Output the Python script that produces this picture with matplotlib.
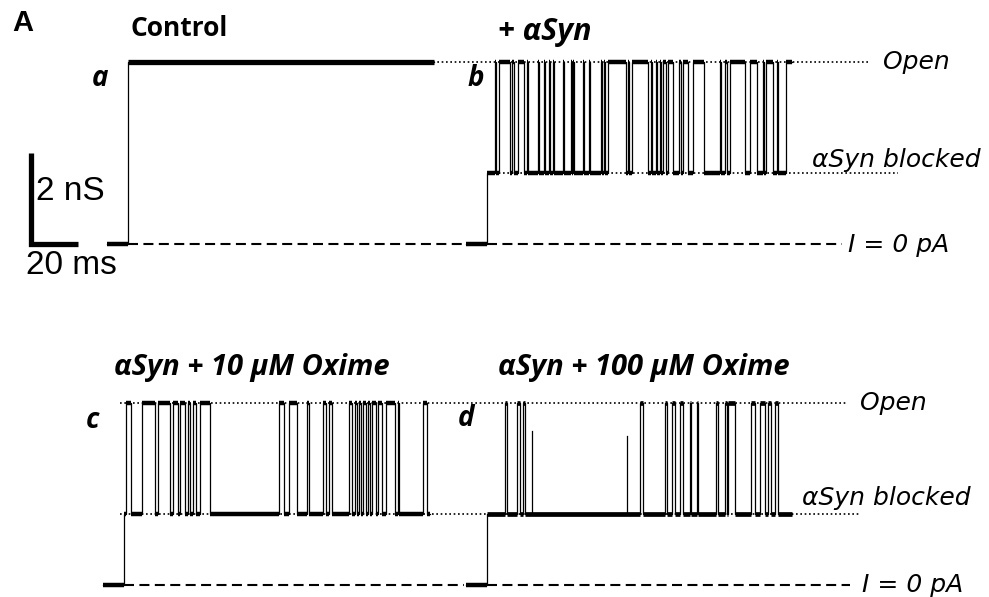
import matplotlib.pyplot as plt

# scale of the original figure (pixels per ms and per nS)
PX_PER_MS = 2.35
PX_PER_NS = 45.5
W, H = 989, 597

OPEN_NS = 4.0
BLOCKED_NS = 1.55
SWEEP_MS = 130
PRE_MS = 9

# open intervals, ms after channel insertion
control_open = [(0, 130)]
asyn_open = [
    (3.4, 3.8), (5.1, 9.8), (10.6, 11.5), (13.2, 15.7), (17.0, 17.4),
    (21.7, 22.1), (24.3, 24.7), (26.4, 26.8), (28.1, 28.5), (32.3, 32.8),
    (35.7, 36.2), (36.6, 37.0), (40.9, 41.3), (43.4, 43.8), (48.5, 48.9),
    (49.8, 50.2), (51.5, 59.1), (60.0, 60.4), (61.7, 68.5), (69.8, 70.2),
    (71.9, 72.3), (73.6, 74.0), (74.9, 76.2), (77.0, 79.1), (81.7, 82.6),
    (83.4, 85.5), (87.7, 92.3), (99.1, 99.6), (101.3, 102.1), (103.4, 109.8),
    (111.9, 114.9), (117.4, 117.9), (118.7, 121.7), (123.4, 123.8), (127.2, 130),
]
oxime10_open = [
    (0.9, 3.0), (7.7, 13.2), (14.5, 19.6), (20.9, 23.0), (23.8, 26.0),
    (27.2, 28.1), (29.4, 30.6), (32.3, 36.6), (66.0, 68.1), (70.2, 73.6),
    (77.9, 78.7), (84.7, 86.0), (87.2, 88.5), (95.7, 97.0), (98.3, 99.1),
    (100.0, 100.9), (101.7, 103.0), (103.8, 104.7), (105.5, 107.2),
    (108.1, 109.8), (111.5, 115.3), (116.6, 117.0), (127.2, 129),
]
oxime100_open = [
    (7.7, 8.5), (12.8, 14.0), (15.3, 16.2), (65.1, 66.4), (75.7, 76.6),
    (78.7, 80.0), (82.1, 83.4), (86.4, 86.8), (89.4, 89.8), (97.4, 98.3),
    (101.3, 102.1), (102.6, 105.5), (112.3, 114.0), (116.2, 118.3),
    (119.6, 120.9), (122.6, 123.8),
]
# partial openings in d: (ms, fraction of the way to the open level)
oxime100_partial = [(19.1, 0.75), (59.6, 0.7)]

TOP_BASE = 244
BOT_BASE = 585

LABEL_FONT = 'Open Sans'
LEVEL_FONT = 'DejaVu Sans'


def px(x, y):
    return x / PX_PER_MS, (H - y) / PX_PER_NS


def segments(opens, closed):
    segs = []
    t = 0
    for s, e in opens:
        if s > t:
            segs.append((t, s, closed))
        segs.append((s, e, OPEN_NS))
        t = e
    if t < SWEEP_MS:
        segs.append((t, SWEEP_MS, closed))
    return segs


def draw_trace(ax, start_px, base_px, opens, closed, plateau_lw, partial=()):
    x0, y0 = px(start_px, base_px)
    segs = [(-PRE_MS, 0, 0)] + segments(opens, closed)
    xs = [x0 + s for s, e, lvl in segs] + [x0 + segs[-1][1]]
    ys = [y0 + lvl for s, e, lvl in segs] + [y0 + segs[-1][2]]
    ax.plot(xs, ys, drawstyle='steps-post', color='black', lw=0.9, zorder=3)
    for s, e, lvl in segs:
        lw = 3.2 if lvl == 0 else plateau_lw
        ax.plot([x0 + s, x0 + e], [y0 + lvl] * 2, color='black', lw=lw,
                solid_capstyle='butt', zorder=3)
    for t, frac in partial:
        ax.plot([x0 + t] * 2, [y0 + closed, y0 + closed + frac * (OPEN_NS - closed)],
                color='black', lw=0.9, zorder=3)


def ref_line(ax, x1, x2, base_px, level, kind):
    xa, y0 = px(x1, base_px)
    xb, _ = px(x2, base_px)
    if kind == 'dashed':
        ax.plot([xa, xb], [y0 + level] * 2, color='black', lw=1.5,
                linestyle=(0, (4.8, 2.6)), zorder=2)
    else:
        ax.plot([xa, xb], [y0 + level] * 2, color='black', lw=1.2,
                linestyle=(0, (1, 1.6)), zorder=2)


def label(ax, x, y, s, **kw):
    ax.text(*px(x, y), s, va='center', **kw)


fig = plt.figure(figsize=(W / 100, H / 100), dpi=100)
ax = fig.add_axes([0, 0, 1, 1])
ax.set_xlim(0, W / PX_PER_MS)
ax.set_ylim(0, H / PX_PER_NS)
ax.axis('off')

# reference levels
ref_line(ax, 433, 870, TOP_BASE, OPEN_NS, 'dotted')
ref_line(ax, 490, 898, TOP_BASE, BLOCKED_NS, 'dotted')
ref_line(ax, 128, 466, TOP_BASE, 0, 'dashed')
ref_line(ax, 487, 842, TOP_BASE, 0, 'dashed')
ref_line(ax, 120, 848, BOT_BASE, OPEN_NS, 'dotted')
ref_line(ax, 120, 860, BOT_BASE, BLOCKED_NS, 'dotted')
ref_line(ax, 124, 464, BOT_BASE, 0, 'dashed')
ref_line(ax, 487, 850, BOT_BASE, 0, 'dashed')

# traces
draw_trace(ax, 128, TOP_BASE, control_open, BLOCKED_NS, 3.8)
draw_trace(ax, 487, TOP_BASE, asyn_open, BLOCKED_NS, 3.2)
draw_trace(ax, 124, BOT_BASE, oxime10_open, BLOCKED_NS, 3.2)
draw_trace(ax, 487, BOT_BASE, oxime100_open, BLOCKED_NS, 3.4, oxime100_partial)

# scale bar: 2 nS x 20 ms
cx, cy = px(31, 244)
ax.plot([cx, cx, cx + 20], [cy + 2, cy, cy], color='black', lw=3.8,
        solid_joinstyle='miter', solid_capstyle='butt', zorder=3)
label(ax, 36, 192, '2 nS', fontsize=24, family='Liberation Sans')
label(ax, 26, 266, '20 ms', fontsize=24, family='Liberation Sans')

# panel labels and titles
label(ax, 12, 23, 'A', fontsize=21, fontweight='bold', family='Liberation Sans')
label(ax, 130, 28, 'Control', fontsize=19, fontweight='bold', family=LABEL_FONT)
label(ax, 498, 32, '+ αSyn', fontsize=22, fontweight='bold', style='italic', family=LABEL_FONT)
label(ax, 114, 368, 'αSyn + 10 μM Oxime', fontsize=21, fontweight='bold', style='italic', family=LABEL_FONT)
label(ax, 498, 368, 'αSyn + 100 μM Oxime', fontsize=21, fontweight='bold', style='italic', family=LABEL_FONT)
for x, y, s in [(92, 78, 'a'), (467, 78, 'b'), (86, 420, 'c'), (458, 418, 'd')]:
    label(ax, x, y, s, fontsize=20, fontweight='bold', style='italic', family=LABEL_FONT)

# level names
for x, y, s in [(883, 62, 'Open'), (812, 160, 'αSyn blocked'), (848, 245, 'I = 0 pA'),
                (860, 403, 'Open'), (802, 498, 'αSyn blocked'), (862, 585, 'I = 0 pA')]:
    label(ax, x, y, s, fontsize=18, style='italic', family=LEVEL_FONT)

fig.savefig('out.png', dpi=100)
